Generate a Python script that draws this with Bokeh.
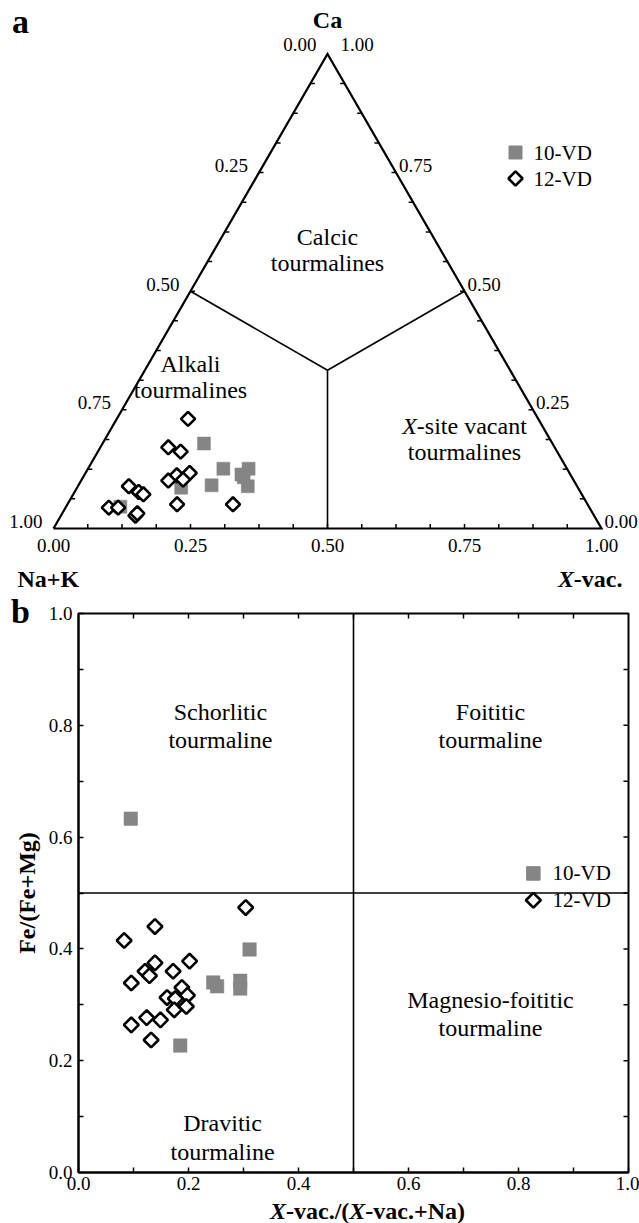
import numpy as np
from bokeh.plotting import figure
from bokeh.models import Label, FixedTicker, PrintfTickFormatter, Range1d
from bokeh.embed import file_html
from bokeh.resources import INLINE

FONT = "Liberation Serif"

# ---------------- data ----------------
# Panel a: ternary Ca - (Na+K) - X-vacancy (fractions); Na+K = 1 - Ca - Xvac
ca_10 = [0.179, 0.126, 0.126, 0.114, 0.108, 0.089, 0.091, 0.086, 0.046]
xvac_10 = [0.185, 0.247, 0.293, 0.286, 0.293, 0.310, 0.243, 0.190, 0.099]
ca_12 = [0.231, 0.171, 0.162, 0.117, 0.112, 0.103, 0.101, 0.051, 0.051,
         0.089, 0.077, 0.072, 0.044, 0.044, 0.027, 0.032]
xvac_12 = [0.130, 0.124, 0.151, 0.190, 0.169, 0.185, 0.159, 0.200, 0.302,
           0.093, 0.117, 0.128, 0.079, 0.096, 0.136, 0.137]

# Panel b: X-vac./(X-vac.+Na) vs Fe/(Fe+Mg)
xr_10 = [0.095, 0.311, 0.245, 0.252, 0.294, 0.294, 0.185, 0.179]
fe_10 = [0.633, 0.399, 0.340, 0.333, 0.343, 0.329, 0.227, 0.311]
xr_12 = [0.304, 0.139, 0.083, 0.202, 0.139, 0.121, 0.129, 0.172, 0.096, 0.188,
         0.198, 0.161, 0.176, 0.174, 0.196, 0.124, 0.149, 0.096, 0.132]
fe_12 = [0.474, 0.440, 0.415, 0.378, 0.375, 0.360, 0.352, 0.360, 0.339, 0.331,
         0.317, 0.313, 0.311, 0.291, 0.297, 0.277, 0.273, 0.264, 0.237]

series_names = ["10-VD", "12-VD"]
tern_ticks = [0.0, 0.25, 0.50, 0.75, 1.00]
tern_tick_labels = ["0.00", "0.25", "0.50", "0.75", "1.00"]
b_ticks = [0.0, 0.2, 0.4, 0.6, 0.8, 1.0]
b_minor = [0.1, 0.3, 0.5, 0.7, 0.9]

GRAY = "#858585"
H = np.sqrt(3) / 2
W, HT = 639, 1223
HB = 633  # height of panel-b figure (overlaid on the lower part of the page)


def tern(ca, xv):
    ca = np.asarray(ca, dtype=float)
    xv = np.asarray(xv, dtype=float)
    return xv + ca / 2.0, ca * H


def lab(p, x, y, text, size, style="normal", align="center", baseline="middle", x_offset=0):
    p.add_layout(Label(x=x, y=y, text=text, text_font=FONT, text_font_size=f"{size}px",
                       text_font_style=style, text_align=align, text_baseline=baseline,
                       x_offset=x_offset, text_color="black"))


# ---------------- panel a (full-page canvas) ----------------
L = 548.0
OX, OY = 53.0, 528.0


def S(sx, sy):
    return (sx - OX) / L, (OY - sy) / L


p1 = figure(width=W, height=HT, x_range=Range1d(-OX / L, (W - OX) / L),
            y_range=Range1d((OY - HT) / L, OY / L), output_backend="svg",
            toolbar_location=None, x_axis_location=None, y_axis_location=None,
            min_border=0, min_border_left=0, min_border_right=0, min_border_top=0,
            min_border_bottom=0)
p1.grid.visible = False
p1.outline_line_color = None

# triangle
p1.line([0, 1, 0.5, 0], [0, 0, H, 0], line_color="black", line_width=2.2, line_join="miter")
# field boundaries (edge midpoints to centroid)
cx, cy = 0.5, H / 3
p1.multi_line([[0.25, cx], [0.75, cx], [0.5, cx]], [[H / 2, cy], [H / 2, cy], [0, cy]],
              line_color="black", line_width=1.6)
# edge ticks
tl = 4.5 / L
ts = np.arange(1, 16) / 16.0
xs, ys = [], []
for t in ts:
    xs.append([t, t]); ys.append([0, tl])
    xs.append([t / 2, t / 2 + tl]); ys.append([t * H, t * H])
    xs.append([1 - t / 2, 1 - t / 2 - tl]); ys.append([t * H, t * H])
p1.multi_line(xs, ys, line_color="black", line_width=1.5)

# data
x10, y10 = tern(ca_10, xvac_10)
x12, y12 = tern(ca_12, xvac_12)
p1.scatter(x10, y10, marker="square", size=13, fill_color=GRAY, line_color=GRAY, line_width=0.5)
p1.scatter(x12, y12, marker="square", angle=np.pi / 4, size=10, fill_color="white",
           line_color="black", line_width=2.6)

# bottom tick labels (X-vac.)
for v, s in zip(tern_ticks, tern_tick_labels):
    lab(p1, v, S(0, 545)[1], s, 19)
# left edge: Na+K fraction (1 at bottom-left, 0 at apex)
for v, s in zip(tern_ticks[1:], tern_tick_labels[1:]):
    x, y = tern(1 - v, 0.0)
    lab(p1, float(x), float(y) + 7 / L, s, 19, align="right", x_offset=-11)
# right edge: Ca fraction (0 at bottom-right)
for v, s in zip(tern_ticks[:-1], tern_tick_labels[:-1]):
    x, y = tern(v, 1 - v)
    lab(p1, float(x), float(y) + 7 / L, s, 19, align="left", x_offset=3)
# apex labels
x, y = S(316, 44)
lab(p1, x, y, tern_tick_labels[0], 19, align="right")
x, y = S(340, 44)
lab(p1, x, y, tern_tick_labels[-1], 19, align="left")

# corner titles
x, y = S(327, 19)
lab(p1, x, y, "Ca", 24, style="bold")
x, y = S(17, 578)
lab(p1, x, y, "Na+K", 24, style="bold", align="left")
x, y = S(622, 578)
lab(p1, x, y, "-vac.", 24, style="bold", align="right")
lab(p1, x, y, "X", 24, style="bold italic", align="right", x_offset=-48.6)

# panel letters
x, y = S(20, 21)
lab(p1, x, y, "a", 34, style="bold")
x, y = S(20, 611)
lab(p1, x, y, "b", 34, style="bold")

# field names
x, y = S(327, 236); lab(p1, x, y, "Calcic", 24)
x, y = S(327, 262); lab(p1, x, y, "tourmalines", 24)
x, y = S(190, 363); lab(p1, x, y, "Alkali", 24)
x, y = S(190, 389); lab(p1, x, y, "tourmalines", 24)
x, y = S(464, 425)
wX, wR = 0.611 * 24, 4.582 * 24
start = -(wX + wR) / 2
lab(p1, x, y, "X", 24, style="italic", align="left", x_offset=start)
lab(p1, x, y, "-site vacant", 24, align="left", x_offset=start + wX)
x, y = S(464, 451); lab(p1, x, y, "tourmalines", 24)

# legend a
lx, ly1 = S(515, 152)
_, ly2 = S(515, 178)
tx, _ = S(533, 152)
p1.scatter([lx], [ly1], marker="square", size=13, fill_color=GRAY, line_color=GRAY)
p1.scatter([lx], [ly2], marker="square", angle=np.pi / 4, size=10, fill_color="white",
           line_color="black", line_width=2.6)
lab(p1, tx, ly1, series_names[0], 21, align="left")
lab(p1, tx, ly2, series_names[1], 21, align="left")

# x-axis title of panel b (with italic X), placed on the page canvas
wXb = 0.667 * 24
w1 = 2.638 * 24
w2 = 4.152 * 24
tot = wXb + w1 + wXb + w2
st = -tot / 2
xt, yt = S(367, 1210)
lab(p1, xt, yt, "X", 24, style="bold italic", align="left", x_offset=st)
lab(p1, xt, yt, "-vac./(", 24, style="bold", align="left", x_offset=st + wXb)
lab(p1, xt, yt, "X", 24, style="bold italic", align="left", x_offset=st + wXb + w1)
lab(p1, xt, yt, "-vac.+Na)", 24, style="bold", align="left", x_offset=st + 2 * wXb + w1)

# ---------------- panel b ----------------
p2 = figure(width=W, height=HB, x_range=Range1d(0, 1), y_range=Range1d(0, 1),
            output_backend="svg", toolbar_location=None,
            min_border_left=78, min_border_right=11, min_border_top=23, min_border_bottom=51,
            margin=(-HB, 0, 0, 0))
p2.grid.visible = False
p2.outline_line_color = "black"
p2.outline_line_width = 2
p2.background_fill_color = None
p2.border_fill_color = None


def style_axis(ax):
    ax.ticker = FixedTicker(ticks=b_ticks, minor_ticks=b_minor)
    ax.formatter = PrintfTickFormatter(format="%.1f")
    ax.major_tick_in = 5
    ax.major_tick_out = 0
    ax.minor_tick_in = 5
    ax.minor_tick_out = 0
    ax.major_tick_line_width = 1.5
    ax.minor_tick_line_width = 1.5
    ax.axis_line_width = 2
    ax.major_label_text_font = FONT
    ax.major_label_text_font_size = "19px"
    ax.major_label_text_color = "black"


style_axis(p2.xaxis[0])
style_axis(p2.yaxis[0])
p2.xaxis[0].major_label_standoff = 4
p2.yaxis[0].major_label_standoff = 6
p2.yaxis[0].axis_label = "Fe/(Fe+Mg)"
p2.yaxis[0].axis_label_text_font = FONT
p2.yaxis[0].axis_label_text_font_style = "bold"
p2.yaxis[0].axis_label_text_font_size = "24px"
p2.yaxis[0].axis_label_standoff = 6
p2.yaxis[0].axis_label_text_color = "black"

# inward ticks on top and right frame edges
tk = b_ticks[1:-1] + b_minor
p2.segment(x0=tk, y0=[1.0] * len(tk), x1=tk, y1=[1.0 - 5 / 559] * len(tk),
           line_color="black", line_width=1.5)
p2.segment(x0=[1.0] * len(tk), y0=tk, x1=[1.0 - 5 / 550] * len(tk), y1=tk,
           line_color="black", line_width=1.5)

# field boundaries
p2.line([0.5, 0.5], [0, 1], line_color="black", line_width=1.6)
p2.line([0, 1], [0.5, 0.5], line_color="black", line_width=1.6)

p2.scatter(xr_10, fe_10, marker="square", size=13.5, fill_color=GRAY, line_color=GRAY, line_width=0.5)
p2.scatter(xr_12, fe_12, marker="square", angle=np.pi / 4, size=10.5, fill_color="white",
           line_color="black", line_width=2.6)

# field names
lab(p2, 0.258, 0.823, "Schorlitic", 24)
lab(p2, 0.258, 0.773, "tourmaline", 24)
lab(p2, 0.749, 0.823, "Foititic", 24)
lab(p2, 0.749, 0.773, "tourmaline", 24)
lab(p2, 0.749, 0.308, "Magnesio-foititic", 24)
lab(p2, 0.749, 0.259, "tourmaline", 24)
lab(p2, 0.262, 0.088, "Dravitic", 24)
lab(p2, 0.262, 0.036, "tourmaline", 24)

# legend b
p2.scatter([0.827], [0.535], marker="square", size=13.5, fill_color=GRAY, line_color=GRAY)
p2.scatter([0.827], [0.487], marker="square", angle=np.pi / 4, size=10.5, fill_color="white",
           line_color="black", line_width=2.6)
lab(p2, 0.862, 0.535, series_names[0], 21, align="left")
lab(p2, 0.862, 0.487, series_names[1], 21, align="left")

open("out.html", "w").write(file_html([p1, p2], INLINE))
